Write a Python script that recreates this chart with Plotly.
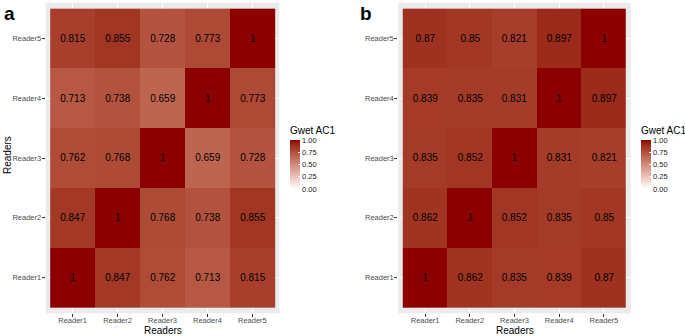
import numpy as np
import plotly.graph_objects as go

readers = ["Reader1", "Reader2", "Reader3", "Reader4", "Reader5"]

# rows = y (Reader1..Reader5), columns = x (Reader1..Reader5)
values_a = [
    [1, 0.847, 0.762, 0.713, 0.815],
    [0.847, 1, 0.768, 0.738, 0.855],
    [0.762, 0.768, 1, 0.659, 0.728],
    [0.713, 0.738, 0.659, 1, 0.773],
    [0.815, 0.855, 0.728, 0.773, 1],
]
values_b = [
    [1, 0.862, 0.835, 0.839, 0.87],
    [0.862, 1, 0.852, 0.835, 0.85],
    [0.835, 0.852, 1, 0.831, 0.821],
    [0.839, 0.835, 0.831, 1, 0.897],
    [0.87, 0.85, 0.821, 0.897, 1],
]
cbar_ticks = [0, 0.25, 0.5, 0.75, 1.0]


# ---- white -> darkred colour scale interpolated in Lab (like ggplot2) ----
def srgb_to_lin(c):
    c = c / 255.0
    return np.where(c <= 0.04045, c / 12.92, ((c + 0.055) / 1.055) ** 2.4)


def lin_to_srgb(c):
    c = np.clip(c, 0, 1)
    v = np.where(c <= 0.0031308, 12.92 * c, 1.055 * c ** (1 / 2.4) - 0.055)
    return np.clip(np.round(v * 255), 0, 255)


M = np.array([[0.4124, 0.3576, 0.1805], [0.2126, 0.7152, 0.0722], [0.0193, 0.1192, 0.9505]])
Minv = np.linalg.inv(M)
WHITE = np.array([0.95047, 1.0, 1.08883])


def f(t):
    d = 6 / 29
    return np.where(t > d ** 3, np.cbrt(t), t / (3 * d * d) + 4 / 29)


def finv(t):
    d = 6 / 29
    return np.where(t > d, t ** 3, 3 * d * d * (t - 4 / 29))


def rgb_to_lab(rgb):
    xyz = M @ srgb_to_lin(np.array(rgb, float)) / WHITE
    fx, fy, fz = f(xyz)
    return np.array([116 * fy - 16, 500 * (fx - fy), 200 * (fy - fz)])


def lab_to_rgb(lab):
    L, a, b = lab
    fy = (L + 16) / 116
    fx = fy + a / 500
    fz = fy - b / 200
    xyz = np.array([finv(fx), finv(fy), finv(fz)]) * WHITE
    return lin_to_srgb(Minv @ xyz)


lo = rgb_to_lab([255, 255, 255])
hi = rgb_to_lab([139, 0, 0])
colorscale = []
for t in np.linspace(0, 1, 21):
    r, g, b = lab_to_rgb(lo + (hi - lo) * t)
    colorscale.append([float(t), f"rgb({int(r)},{int(g)},{int(b)})"])

FONT = "Liberation Sans, Arial, sans-serif"
W, H = 685, 336

xs = [1, 2, 3, 4, 5]


def fmt(v):
    return "1" if v == 1 else f"{v:g}"


def heat(vals, xa, ya, cb_x):
    return go.Heatmap(
        z=vals, x=xs, y=xs, xaxis=xa, yaxis=ya,
        zmin=0, zmax=1, colorscale=colorscale,
        text=[[fmt(v) for v in row] for row in vals],
        texttemplate="%{text}",
        textfont=dict(family=FONT, size=10, color="black"),
        xgap=0, ygap=0,
        hoverinfo="skip",
        colorbar=dict(
            x=cb_x / W, xanchor="left", xref="paper",
            y=(H - 140) / H, yanchor="top",
            thickness=10, thicknessmode="pixels",
            len=49, lenmode="pixels",
            outlinewidth=0,
            tickvals=cbar_ticks, ticktext=[f"{v:.2f}" for v in cbar_ticks],
            ticks="inside", ticklen=2, tickcolor="white",
            tickfont=dict(family=FONT, size=7.5, color="#1a1a1a"),
            xpad=0, ypad=0,
        ),
    )


fig = go.Figure()
fig.add_trace(heat(values_a, "x", "y", 290))
fig.add_trace(heat(values_b, "x2", "y2", 641))

ydom = [(H - 313.3) / H, (H - 2.7) / H]
axis_common = dict(
    range=[0.4, 5.6], tickvals=xs, ticktext=readers,
    showgrid=True, gridcolor="white", gridwidth=1,
    zeroline=False, showline=False, automargin=False,
    ticks="outside", ticklen=3, tickcolor="#333333",
    tickfont=dict(family=FONT, size=7.5, color="#4d4d4d"),
)

ann_font = dict(family=FONT, size=10, color="black")
cb_title_font = dict(family=FONT, size=10, color="black")
fig.update_layout(
    width=W, height=H,
    margin=dict(l=0, r=0, t=0, b=0, autoexpand=False),
    paper_bgcolor="white", plot_bgcolor="#ebebeb",
    showlegend=False,
    xaxis=dict(domain=[45.7 / W, 279.3 / W], anchor="y", ticklabelstandoff=-3, **axis_common),
    yaxis=dict(domain=ydom, anchor="x", ticklabelstandoff=-1, **axis_common),
    xaxis2=dict(domain=[398.3 / W, 630.7 / W], anchor="y2", ticklabelstandoff=-3, **axis_common),
    yaxis2=dict(domain=ydom, anchor="x2", ticklabelstandoff=-1, **axis_common),
    annotations=[
        dict(text="<b>a</b>", x=2 / W, y=1 - 1 / H, xref="paper", yref="paper",
             xanchor="left", yanchor="top", showarrow=False,
             font=dict(family=FONT, size=19, color="black")),
        dict(text="<b>b</b>", x=358 / W, y=1 - 1 / H, xref="paper", yref="paper",
             xanchor="left", yanchor="top", showarrow=False,
             font=dict(family=FONT, size=19, color="black")),
        dict(text="Readers", x=162.5 / W, y=(H - 330) / H, xref="paper", yref="paper",
             xanchor="center", yanchor="middle", showarrow=False, font=ann_font),
        dict(text="Readers", x=514.5 / W, y=(H - 330) / H, xref="paper", yref="paper",
             xanchor="center", yanchor="middle", showarrow=False, font=ann_font),
        dict(text="Readers", x=7 / W, y=(H - 155) / H, xref="paper", yref="paper",
             xanchor="center", yanchor="middle", showarrow=False, textangle=-90,
             font=ann_font),
        dict(text="Gwet AC1", x=288 / W, y=(H - 130) / H, xref="paper", yref="paper",
             xanchor="left", yanchor="middle", showarrow=False, font=cb_title_font),
        dict(text="Gwet AC1", x=639 / W, y=(H - 130) / H, xref="paper", yref="paper",
             xanchor="left", yanchor="middle", showarrow=False, font=cb_title_font),
    ],
)

fig.write_html("out.html", config={"displayModeBar": False},
               post_script="document.body.style.margin='0';")
